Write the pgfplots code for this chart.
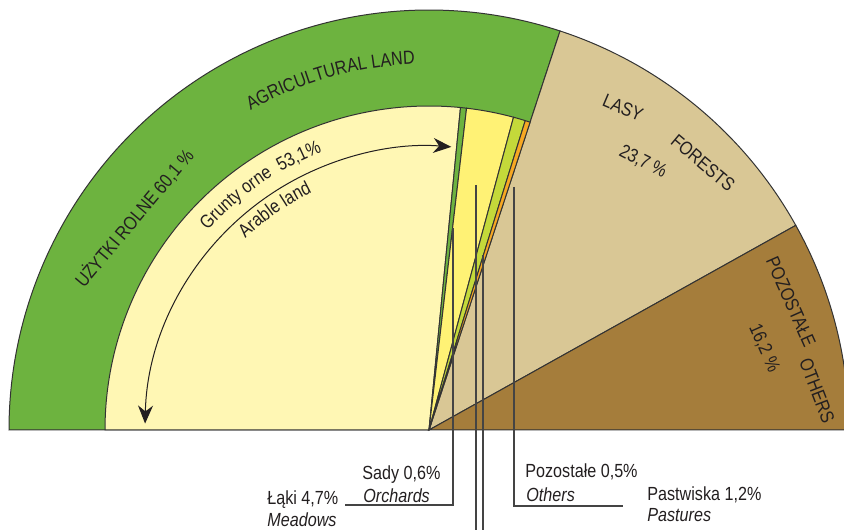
\documentclass[border=0pt]{standalone}
\usepackage{fontspec}
\setmainfont{Liberation Sans}[FakeStretch=0.85]
\usepackage{pgfplots}
\pgfplotsset{compat=1.18}
\usepackage{pgfplotstable}
\usetikzlibrary{decorations.text,arrows.meta}

\definecolor{agri}{HTML}{6DB33F}
\definecolor{arable}{HTML}{FFF7B4}
\definecolor{meadow}{HTML}{FFF275}
\definecolor{pasture}{HTML}{C4D93A}
\definecolor{orangec}{HTML}{F7A823}
\definecolor{forest}{HTML}{D9C795}
\definecolor{brownc}{HTML}{A57D3B}
\definecolor{edge}{HTML}{333333}
\definecolor{txt}{HTML}{231F20}
\definecolor{linec}{HTML}{444444}

% outer ring: share of total area (percent of the half circle)
\pgfplotstableread{
label pct col
Agricultural 60.1 agri
Forests 23.7 forest
Others 16.2 brownc
}\outerring
% inner ring: parts of agricultural land
\pgfplotstableread{
label pct col
Arable 53.1 arable
Orchards 0.6 agri
Meadows 4.7 meadow
Pastures 1.2 pasture
Others 0.5 orangec
}\innerring

\newcommand\drawring[2]{%
  \xdef\cum{0}%
  \pgfplotstablegetrowsof{#1}%
  \pgfmathtruncatemacro\lastrow{\pgfplotsretval-1}%
  \pgfmathsetmacro\rr{#2*0.5}%
  \foreach \i in {0,...,\lastrow}{%
    \pgfplotstablegetelem{\i}{pct}\of{#1}\let\wval\pgfplotsretval
    \pgfplotstablegetelem{\i}{col}\of{#1}\let\wcol\pgfplotsretval
    \pgfmathsetmacro\sa{180-1.8*\cum}%
    \pgfmathsetmacro\ea{180-1.8*(\cum+\wval)}%
    \pgfmathsetmacro\nc{\cum+\wval}\xdef\cum{\nc}%
    \edef\tmp{\noexpand\filldraw[fill=\wcol,draw=edge,line width=0.5pt] (axis cs:429,99) -- ([shift={(\sa:\rr pt)}]axis cs:429,99) arc[start angle=\sa,end angle=\ea,radius=\rr pt] -- cycle;}%
    \tmp
  }%
}

\begin{document}
\fontsize{9.5}{11.4}\selectfont
\begin{tikzpicture}
\begin{axis}[x=0.5pt,y=0.5pt,xmin=0,xmax=844,ymin=0,ymax=529,hide axis]
\coordinate (SW) at (axis cs:0,0);
\coordinate (NE) at (axis cs:844,529);
\drawring{\outerring}{420}
\drawring{\innerring}{324}

% arrow
\draw[txt,line width=0.5pt,{Stealth[length=9pt,width=7.5pt]}-{Stealth[length=9pt,width=7.5pt]}]
  ([shift={(178.7:142pt)}]axis cs:429,99) arc[start angle=178.7,end angle=85.5,radius=142pt];

% curved texts
\path[decorate,decoration={text along path,text={AGRICULTURAL LAND},text align=center,text color=txt}]
  ([shift={(135.7:183pt)}]axis cs:429,99) arc[start angle=135.7,end angle=75.7,radius=183pt];
\path[decorate,decoration={text along path,text={Grunty orne {\ }53,1{\%}},text align=center,text color=txt}]
  ([shift={(154.5:149pt)}]axis cs:429,99) arc[start angle=154.5,end angle=94.5,radius=149pt];
\path[decorate,decoration={text along path,text={Arable land},text align=center,text color=txt}]
  ([shift={(155:132.5pt)}]axis cs:429,99) arc[start angle=155,end angle=95,radius=132.5pt];

% rotated texts
\node[rotate=50,text=txt,inner sep=0] at (axis cs:134,311) {UŻYTKI ROLNE 60,1 \%};
\node[rotate=-23,text=txt,inner sep=0] at (axis cs:623,421) {LASY};
\node[rotate=-40,text=txt,inner sep=0] at (axis cs:703,366) {FORESTS};
\node[rotate=-27,text=txt,inner sep=0] at (axis cs:643,367) {23,7 \%};
\node[rotate=-66,text=txt,inner sep=0] at (axis cs:791,227) {POZOSTAŁE};
\node[rotate=-69,text=txt,inner sep=0] at (axis cs:817,138) {OTHERS};
\node[rotate=-66,text=txt,inner sep=0] at (axis cs:764,181) {16,2 \%};

% leader lines
\draw[linec,line width=0.6pt] (axis cs:453,301) -- (axis cs:453,24) -- (axis cs:345,24);
\draw[linec,line width=0.6pt] (axis cs:476,344) -- (axis cs:476,-5);
\draw[linec,line width=0.6pt] (axis cs:483,274) -- (axis cs:483,-5);
\draw[linec,line width=0.6pt] (axis cs:514,342) -- (axis cs:514,23) -- (axis cs:623,23);

% bottom labels
\node[anchor=base west,text=txt,inner sep=0] at (axis cs:362,49) {Sady 0,6\%};
\node[anchor=base west,text=txt,inner sep=0] at (axis cs:363,26) {\textit{Orchards}};
\node[anchor=base west,text=txt,inner sep=0] at (axis cs:267,25) {Łąki 4,7\%};
\node[anchor=base west,text=txt,inner sep=0] at (axis cs:267,3) {\textit{Meadows}};
\node[anchor=base west,text=txt,inner sep=0] at (axis cs:525,51) {Pozostałe 0,5\%};
\node[anchor=base west,text=txt,inner sep=0] at (axis cs:526,27) {\textit{Others}};
\node[anchor=base west,text=txt,inner sep=0] at (axis cs:647,29) {Pastwiska 1,2\%};
\node[anchor=base west,text=txt,inner sep=0] at (axis cs:647,8) {\textit{Pastures}};
\end{axis}
\pgfresetboundingbox
\path (SW) rectangle (NE);
\end{tikzpicture}
\end{document}
